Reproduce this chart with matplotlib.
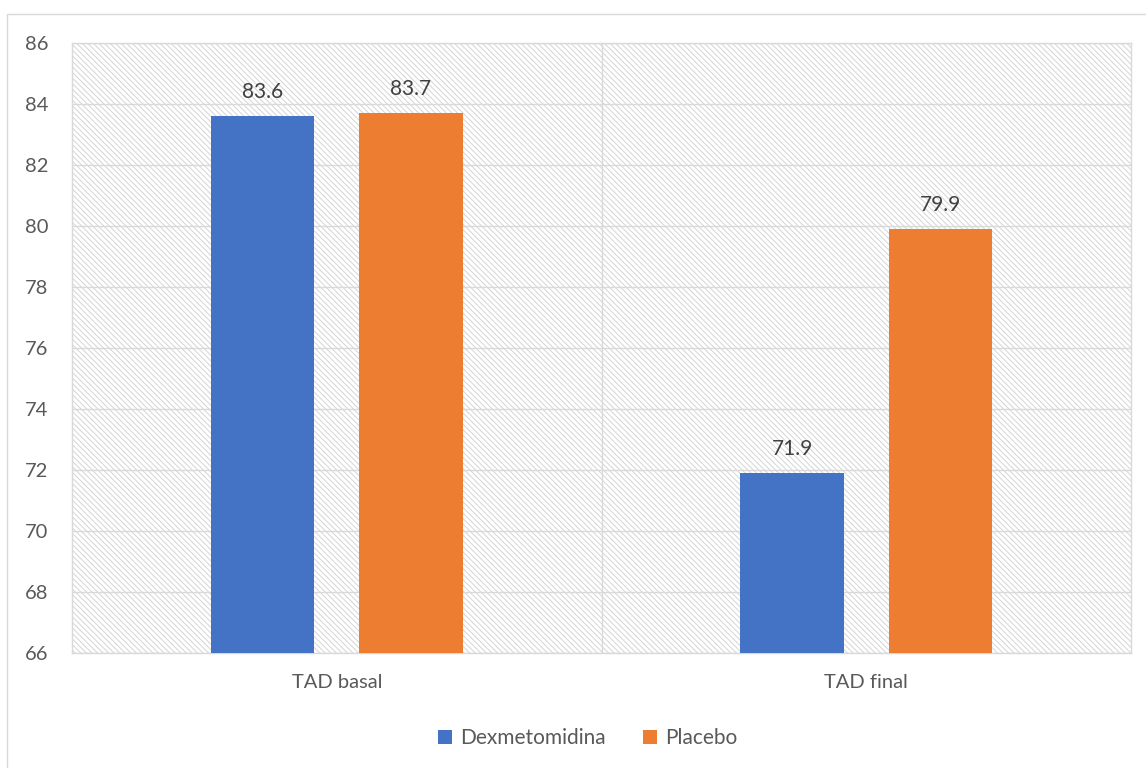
import matplotlib
matplotlib.use("Agg")
import matplotlib.pyplot as plt
import numpy as np
from matplotlib.patches import Rectangle

plt.rcParams['font.family'] = ['Lato', 'DejaVu Sans']
plt.rcParams['hatch.linewidth'] = 0.7
plt.rcParams['hatch.color'] = '#d4d4d4'

categories = ["TAD basal", "TAD final"]
series_names = ["Dexmetomidina", "Placebo"]
dexmetomidina = [83.6, 71.9]
placebo = [83.7, 79.9]
colors = ["#4472c4", "#ed7d31"]

W, H = 1146, 768
fig = plt.figure(figsize=(W / 100, H / 100), dpi=100)
ax = fig.add_axes([72 / W, 1 - 653 / H, (1131 - 72) / W, (653 - 43) / H])

# figure border
fig.patches.append(Rectangle((7 / W, -0.05), 1.2, 1 - 14 / H + 0.05, transform=fig.transFigure,
                             fill=False, edgecolor='#d9d9d9', linewidth=1.0, zorder=0))

ax.set_facecolor('white')
bg = Rectangle((0, 0), 1, 1, transform=ax.transAxes, facecolor='white', edgecolor='#d4d4d4',
               linewidth=0.7, hatch='\\' * 6, zorder=0)
ax.add_patch(bg)

x = np.arange(len(categories))
bw = 0.195
off = 0.14
for i, (vals, name) in enumerate(zip([dexmetomidina, placebo], series_names)):
    pos = x + (-off if i == 0 else off)
    ax.bar(pos, [v - 66 for v in vals], bottom=66, width=bw, color=colors[i], label=name, zorder=3)
    for p, v in zip(pos, vals):
        ax.annotate(f"{v:.1f}", (p, v), xytext=(0, 10), textcoords='offset points',
                    ha='center', va='bottom', fontsize=15, color='#404040', zorder=4)

ax.set_xlim(-0.5, 1.5)
ax.set_ylim(66, 86)
ax.set_yticks(np.arange(66, 87, 2))
ax.yaxis.grid(True, color='#d9d9d9', linewidth=1.0, zorder=1)
ax.axvline(0.5, color='#d9d9d9', linewidth=1.0, zorder=1)
ax.set_axisbelow(True)
ax.set_xticks(x)
ax.set_xticklabels(categories)
ax.tick_params(axis='both', length=0, labelsize=14.5, colors='#595959')
ax.tick_params(axis='x', pad=15)
ax.tick_params(axis='y', pad=17)
for s in ax.spines.values():
    s.set_color('#d9d9d9')
    s.set_linewidth(1.0)

leg = fig.legend(loc='center', bbox_to_anchor=(588 / W, 1 - 738 / H), ncol=2, frameon=False,
                 fontsize=15, handlelength=0.65, handleheight=0.65, handletextpad=0.4, columnspacing=1.8)
for t in leg.get_texts():
    t.set_color('#595959')

fig.savefig("out.png", dpi=100)
